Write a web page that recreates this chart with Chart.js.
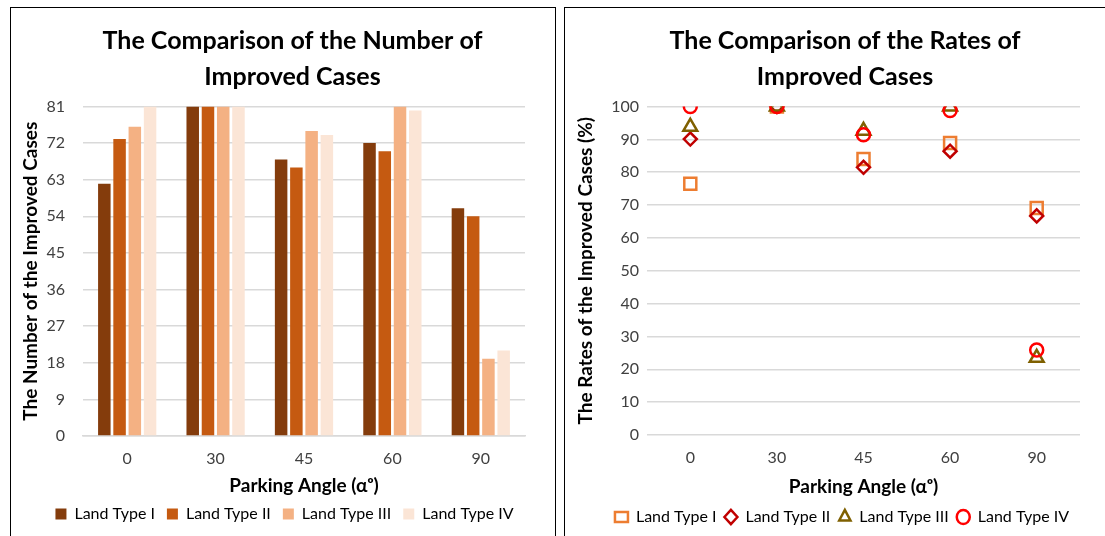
<!DOCTYPE html>
<html>
<head>
<meta charset="utf-8">
<script src="https://cdn.jsdelivr.net/npm/chart.js@4.4.1/dist/chart.umd.min.js"></script>
<style>
    body { margin: 0; background: #fff; width: 1105px; height: 536px; overflow: hidden; position: relative; }
    .panel { position: absolute; top: 7px; height: 600px; border: 1.5px solid #000; box-sizing: border-box; }
    #p1 { left: 10px; width: 546px; }
    #p2 { left: 564px; width: 560px; }
    canvas { position: absolute; }
    #c1 { left: 12px; top: 9px; }
    #c2 { left: 566px; top: 9px; }
</style>
</head>
<body>
<div class="panel" id="p1"></div>
<div class="panel" id="p2"></div>
<canvas id="c1" width="541" height="527"></canvas>
<canvas id="c2" width="539" height="527"></canvas>
<script>
const angles = ['0', '30', '45', '60', '90'];
const landTypes = ['Land Type I', 'Land Type II', 'Land Type III', 'Land Type IV'];

// number of improved cases (left chart)
const countI = [62, 81, 68, 72, 56];
const countII = [73, 81, 66, 70, 54];
const countIII = [76, 81, 75, 81, 19];
const countIV = [81, 81, 74, 80, 21];

// rates of improved cases in % (right chart)
const rateI = [76.5, 100, 84.0, 88.9, 69.1];
const rateII = [90.1, 100, 81.5, 86.4, 66.7];
const rateIII = [93.8, 100, 92.6, 100, 23.5];
const rateIV = [100, 100, 91.4, 98.8, 25.9];

const countTicks = [0, 9, 18, 27, 36, 45, 54, 63, 72, 81];

const barColors = ['#843C0C', '#C55A11', '#F4B183', '#FBE5D6'];
const markColors = ['#ED7D31', '#C00000', '#7F6000', '#FF0000'];
const markStyles = ['rect', 'rectRot', 'triangle', 'circle'];
const markRadius = [8.5, 6.5, 8, 6.5];

const FONT = 'Lato, "Open Sans", sans-serif';
Chart.defaults.font.family = FONT;
Chart.defaults.color = '#404040';
Chart.defaults.animation = false;

const gridGray = '#D9D9D9';

// the title and legend in the source sit a bit right of the plot-free centre
const shiftBlocks = {
    id: 'shiftBlocks',
    afterLayout(chart, args, opts) {
        if (chart.titleBlock) {
            chart.titleBlock.left += opts.title;
            chart.titleBlock.right += opts.title;
        }
        if (chart.legend) {
            chart.legend.left += opts.legend;
            chart.legend.right += opts.legend;
        }
    }
};

function titleOpts(lines) {
    return {
        display: true,
        text: lines,
        color: '#000',
        font: { size: 25, weight: 'bold', lineHeight: 1.43 },
        padding: { top: 14, bottom: 12 }
    };
}

function axisTitle(text, pad) {
    return { display: true, text: text, color: '#000', font: { size: 19, weight: 'bold' }, padding: pad };
}

// left: grouped bars
new Chart(document.getElementById('c1'), {
    type: 'bar',
    data: {
        labels: angles,
        datasets: [countI, countII, countIII, countIV].map((d, i) => ({
            label: landTypes[i],
            data: d,
            backgroundColor: barColors[i],
            categoryPercentage: 0.69,
            barPercentage: 0.82
        }))
    },
    plugins: [shiftBlocks],
    options: {
        responsive: false,
        layout: { padding: { left: 0, right: 28, bottom: 4 } },
        plugins: {
            shiftBlocks: { title: 24, legend: 16 },
            title: titleOpts(['The Comparison of the Number of', 'Improved Cases']),
            legend: {
                position: 'bottom',
                labels: { boxWidth: 11, boxHeight: 11, font: { size: 16 }, color: '#000', padding: 12 }
            },
            tooltip: { enabled: false }
        },
        scales: {
            x: {
                afterFit: axis => { axis.height = 58; },
                grid: { display: false },
                border: { color: gridGray, width: 1.5 },
                ticks: { font: { size: 16 }, padding: 5 },
                title: axisTitle('Parking Angle (αᵒ)', { top: 0, bottom: -3 })
            },
            y: {
                min: 0,
                max: 81,
                afterBuildTicks: axis => { axis.ticks = countTicks.map(v => ({ value: v })); },
                afterFit: axis => { axis.width = 71; },
                grid: { color: gridGray, lineWidth: 1.5, drawTicks: false },
                border: { display: false },
                ticks: { font: { size: 16 }, padding: 18 },
                title: axisTitle('The Number of the Improved Cases', { top: 7, bottom: 0 })
            }
        }
    }
});

// right: marker-only scatter
new Chart(document.getElementById('c2'), {
    type: 'line',
    data: {
        labels: angles,
        datasets: [rateI, rateII, rateIII, rateIV].map((d, i) => ({
            label: landTypes[i],
            data: d,
            showLine: false,
            order: 4 - i,
            pointStyle: markStyles[i],
            pointRadius: markRadius[i],
            pointBorderWidth: 2.5,
            borderColor: markColors[i],
            backgroundColor: 'rgba(0,0,0,0)',
            pointBackgroundColor: 'rgba(0,0,0,0)'
        }))
    },
    plugins: [shiftBlocks],
    options: {
        responsive: false,
        layout: { padding: { left: 0, right: 25, bottom: 1 } },
        plugins: {
            shiftBlocks: { title: 22, legend: 19 },
            title: titleOpts(['The Comparison of the Rates of', 'Improved Cases']),
            legend: {
                position: 'bottom',
                labels: {
                    usePointStyle: true,
                    boxHeight: 10,
                    pointStyleWidth: 13,
                    font: { size: 16 },
                    color: '#000',
                    padding: 8,
                    sort: (a, b) => a.datasetIndex - b.datasetIndex
                }
            },
            tooltip: { enabled: false }
        },
        scales: {
            x: {
                offset: true,
                afterFit: axis => { axis.height = 66; },
                grid: { display: false },
                border: { display: false },
                ticks: { font: { size: 16 }, padding: 5 },
                title: axisTitle('Parking Angle (αᵒ)', { top: 0, bottom: 3 })
            },
            y: {
                min: 0,
                max: 100,
                afterFit: axis => { axis.width = 81; },
                grid: { color: gridGray, lineWidth: 1.5, drawTicks: false },
                border: { display: false },
                ticks: { stepSize: 10, font: { size: 16 }, padding: 8 },
                title: axisTitle('The Rates of the Improved Cases (%)', { top: 8, bottom: 0 })
            }
        }
    }
});
</script>
</body>
</html>
